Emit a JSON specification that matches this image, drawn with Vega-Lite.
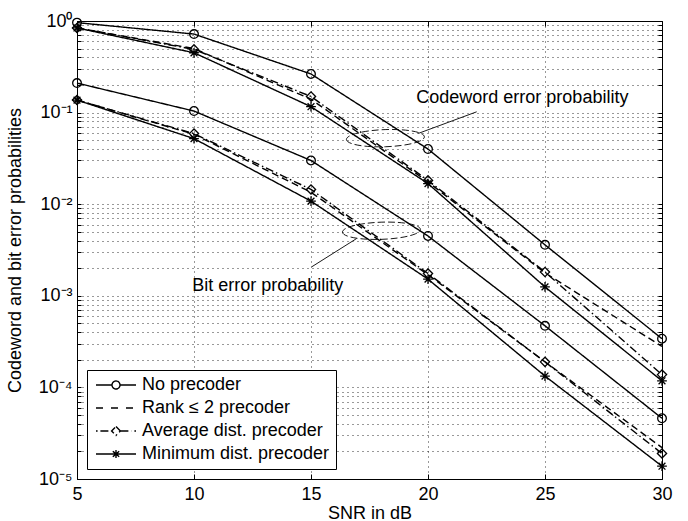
{
  "$schema": "https://vega.github.io/schema/vega-lite/v6.json",
  "width": 585,
  "height": 458,
  "autosize": {"type": "none"},
  "padding": {"left": 77, "top": 21, "right": 26, "bottom": 42},
  "background": "white",
  "config": {
    "font": "Liberation Sans",
    "view": {"stroke": "black", "strokeWidth": 1, "fill": "white"}
  },
  "datasets": {
    "curves": [
      {"series": "No precoder", "kind": "cw", "snr": 5, "p": 0.96},
      {"series": "No precoder", "kind": "cw", "snr": 10, "p": 0.72},
      {"series": "No precoder", "kind": "cw", "snr": 15, "p": 0.264},
      {"series": "No precoder", "kind": "cw", "snr": 20, "p": 0.040},
      {"series": "No precoder", "kind": "cw", "snr": 25, "p": 0.0036},
      {"series": "No precoder", "kind": "cw", "snr": 30, "p": 0.00034},
      {"series": "No precoder", "kind": "bit", "snr": 5, "p": 0.21},
      {"series": "No precoder", "kind": "bit", "snr": 10, "p": 0.104},
      {"series": "No precoder", "kind": "bit", "snr": 15, "p": 0.030},
      {"series": "No precoder", "kind": "bit", "snr": 20, "p": 0.0045},
      {"series": "No precoder", "kind": "bit", "snr": 25, "p": 0.00047},
      {"series": "No precoder", "kind": "bit", "snr": 30, "p": 0.000046},
      {"series": "Rank ≤ 2 precoder", "kind": "cw", "snr": 5, "p": 0.84},
      {"series": "Rank ≤ 2 precoder", "kind": "cw", "snr": 10, "p": 0.50},
      {"series": "Rank ≤ 2 precoder", "kind": "cw", "snr": 15, "p": 0.14},
      {"series": "Rank ≤ 2 precoder", "kind": "cw", "snr": 20, "p": 0.0175},
      {"series": "Rank ≤ 2 precoder", "kind": "cw", "snr": 25, "p": 0.00178},
      {"series": "Rank ≤ 2 precoder", "kind": "cw", "snr": 30, "p": 0.00028},
      {"series": "Rank ≤ 2 precoder", "kind": "bit", "snr": 5, "p": 0.137},
      {"series": "Rank ≤ 2 precoder", "kind": "bit", "snr": 10, "p": 0.058},
      {"series": "Rank ≤ 2 precoder", "kind": "bit", "snr": 15, "p": 0.0135},
      {"series": "Rank ≤ 2 precoder", "kind": "bit", "snr": 20, "p": 0.0017},
      {"series": "Rank ≤ 2 precoder", "kind": "bit", "snr": 25, "p": 0.00019},
      {"series": "Rank ≤ 2 precoder", "kind": "bit", "snr": 30, "p": 0.000022},
      {"series": "Average dist. precoder", "kind": "cw", "snr": 5, "p": 0.84},
      {"series": "Average dist. precoder", "kind": "cw", "snr": 10, "p": 0.49},
      {"series": "Average dist. precoder", "kind": "cw", "snr": 15, "p": 0.150},
      {"series": "Average dist. precoder", "kind": "cw", "snr": 20, "p": 0.0182},
      {"series": "Average dist. precoder", "kind": "cw", "snr": 25, "p": 0.00182},
      {"series": "Average dist. precoder", "kind": "cw", "snr": 30, "p": 0.000138},
      {"series": "Average dist. precoder", "kind": "bit", "snr": 5, "p": 0.137},
      {"series": "Average dist. precoder", "kind": "bit", "snr": 10, "p": 0.059},
      {"series": "Average dist. precoder", "kind": "bit", "snr": 15, "p": 0.0145},
      {"series": "Average dist. precoder", "kind": "bit", "snr": 20, "p": 0.00175},
      {"series": "Average dist. precoder", "kind": "bit", "snr": 25, "p": 0.00019},
      {"series": "Average dist. precoder", "kind": "bit", "snr": 30, "p": 0.000019},
      {"series": "Minimum dist. precoder", "kind": "cw", "snr": 5, "p": 0.84},
      {"series": "Minimum dist. precoder", "kind": "cw", "snr": 10, "p": 0.45},
      {"series": "Minimum dist. precoder", "kind": "cw", "snr": 15, "p": 0.116},
      {"series": "Minimum dist. precoder", "kind": "cw", "snr": 20, "p": 0.0168},
      {"series": "Minimum dist. precoder", "kind": "cw", "snr": 25, "p": 0.00125},
      {"series": "Minimum dist. precoder", "kind": "cw", "snr": 30, "p": 0.000118},
      {"series": "Minimum dist. precoder", "kind": "bit", "snr": 5, "p": 0.137},
      {"series": "Minimum dist. precoder", "kind": "bit", "snr": 10, "p": 0.052},
      {"series": "Minimum dist. precoder", "kind": "bit", "snr": 15, "p": 0.0108},
      {"series": "Minimum dist. precoder", "kind": "bit", "snr": 20, "p": 0.00152},
      {"series": "Minimum dist. precoder", "kind": "bit", "snr": 25, "p": 0.000133},
      {"series": "Minimum dist. precoder", "kind": "bit", "snr": 30, "p": 0.0000138}
    ],
    "notes": [
      {"x": 19.5, "y": 0.127, "text": "Codeword error probability"},
      {"x": 9.92, "y": 0.00113, "text": "Bit error probability"}
    ],
    "leaders": [
      {"x": 22.08, "y": 0.102, "x2": 19.59, "y2": 0.0593},
      {"x": 15.03, "y": 0.00207, "x2": 16.95, "y2": 0.00422}
    ],
    "ellipses": [
      {"x": 18.18, "y": 0.0526},
      {"x": 18.01, "y": 0.00513}
    ]
  },
  "layer": [
    {
      "data": {"name": "curves"},
      "mark": {"type": "line", "color": "black", "strokeWidth": 1.4},
      "encoding": {
        "x": {
          "field": "snr", "type": "quantitative",
          "scale": {"domain": [5, 30], "nice": false, "zero": false},
          "axis": {
            "orient": "bottom", "values": [5, 10, 15, 20, 25, 30], "grid": true,
            "gridDash": [1, 4], "gridColor": "#000", "gridOpacity": 0.8, "gridWidth": 1,
            "domain": false, "tickSize": -5, "tickColor": "black", "tickWidth": 1,
            "labelFontSize": 18, "labelColor": "black", "labelPadding": 11, "labelFlush": false,
            "labelOverlap": false,
            "title": "SNR in dB", "titleFontSize": 18, "titleFontWeight": "normal",
            "titleColor": "black", "titlePadding": 1
          }
        },
        "y": {
          "field": "p", "type": "quantitative",
          "scale": {"type": "log", "domain": [0.00001, 1], "nice": false},
          "axis": {
            "orient": "left",
            "values": [0.00001, 0.00002, 0.00003, 0.00004, 0.00005, 0.00006, 0.00007, 0.00008, 0.00009,
                       0.0001, 0.0002, 0.0003, 0.0004, 0.0005, 0.0006, 0.0007, 0.0008, 0.0009,
                       0.001, 0.002, 0.003, 0.004, 0.005, 0.006, 0.007, 0.008, 0.009,
                       0.01, 0.02, 0.03, 0.04, 0.05, 0.06, 0.07, 0.08, 0.09,
                       0.1, 0.2, 0.3, 0.4, 0.5, 0.6, 0.7, 0.8, 0.9, 1],
            "labelExpr": "abs(log(datum.value)/LN10 - round(log(datum.value)/LN10)) > 0.01 ? '' : ['10⁰','10⁻¹','10⁻²','10⁻³','10⁻⁴','10⁻⁵'][-round(log(datum.value)/LN10)]",
            "grid": true, "gridDash": [1, 4], "gridColor": "#000", "gridOpacity": 0.8, "gridWidth": 1,
            "domain": false, "tickSize": -4, "tickColor": "black", "tickWidth": 1,
            "labelFontSize": 18, "labelColor": "black", "labelPadding": 9, "labelOverlap": false,
            "labelFlush": false,
            "title": "Codeword and bit error probabilities", "titleFontSize": 18,
            "titleFontWeight": "normal", "titleColor": "black", "titlePadding": 14
          }
        },
        "detail": {"field": "kind", "type": "nominal"},
        "strokeDash": {
          "field": "series", "type": "nominal",
          "scale": {
            "domain": ["No precoder", "Rank ≤ 2 precoder", "Average dist. precoder", "Minimum dist. precoder"],
            "range": [[1, 0], [7, 4], [8, 3, 1.5, 3], [1, 0]]
          },
          "legend": {
            "title": null, "orient": "bottom-left", "offset": 10, "padding": 6,
            "strokeColor": "black", "fillColor": "white", "cornerRadius": 0,
            "labelFontSize": 18, "labelColor": "black", "labelOffset": 31, "labelLimit": 400,
            "symbolSize": 256, "rowPadding": 5, "symbolStrokeColor": "black", "symbolStrokeWidth": 1.3,
            "encode": {
              "symbols": {
                "update": {
                  "shape": {"signal": "datum.value === 'No precoder' ? 'M-0.75,0H1.25M2.25,0H4.25M1.25,0A0.5,0.5 0 1,1 2.25,0A0.5,0.5 0 1,1 1.25,0' : datum.value === 'Rank ≤ 2 precoder' ? 'M-0.75,0H0.5M1.125,0H2.375M3,0H4.25' : datum.value === 'Average dist. precoder' ? 'M-0.75,0H-0.55M-0.2,0H1.2M2.3,0H3.7M4.05,0H4.25M1.75,-0.55L2.3,0L1.75,0.55L1.2,0Z' : 'M-0.75,0H4.25M1.75,-0.5V0.5M1.35,-0.35L2.15,0.35M1.35,0.35L2.15,-0.35'"},
                  "strokeDash": {"value": [1, 0]},
                  "stroke": {"value": "black"},
                  "fill": {"value": "white"},
                  "strokeWidth": {"value": 1.4}
                }
              }
            }
          }
        }
      }
    },
    {
      "data": {"name": "curves"},
      "transform": [{"filter": "datum.series !== 'Rank ≤ 2 precoder'"}],
      "mark": {"type": "point", "filled": false, "color": "black", "strokeWidth": 1.3, "opacity": 1},
      "encoding": {
        "x": {"field": "snr", "type": "quantitative", "axis": null},
        "y": {"field": "p", "type": "quantitative", "axis": null},
        "shape": {
          "field": "series", "type": "nominal",
          "scale": {
            "domain": ["No precoder", "Average dist. precoder", "Minimum dist. precoder"],
            "range": ["circle", "diamond", "M0,-1V1M-1,0H1M-0.7,-0.7L0.7,0.7M-0.7,0.7L0.7,-0.7"]
          },
          "legend": null
        },
        "size": {
          "field": "series", "type": "ordinal",
          "scale": {
            "domain": ["No precoder", "Average dist. precoder", "Minimum dist. precoder"],
            "range": [75, 95, 50]
          },
          "legend": null
        }
      }
    },
    {
      "data": {"name": "leaders"},
      "mark": {"type": "rule", "color": "black", "strokeWidth": 0.9},
      "encoding": {
        "x": {"field": "x", "type": "quantitative", "axis": null},
        "y": {"field": "y", "type": "quantitative", "axis": null},
        "x2": {"field": "x2"},
        "y2": {"field": "y2"}
      }
    },
    {
      "data": {"name": "ellipses"},
      "mark": {
        "type": "point", "filled": false, "color": "black", "strokeWidth": 0.9,
        "strokeDash": [7, 3], "opacity": 1, "size": 6084, "angle": -2,
        "shape": "M-1,0A1,0.22 0 1,0 1,0A1,0.22 0 1,0 -1,0"
      },
      "encoding": {
        "x": {
          "field": "x", "type": "quantitative",
          "axis": {
            "orient": "top", "values": [5, 10, 15, 20, 25, 30], "grid": false, "labels": false,
            "domain": false, "tickSize": -5, "tickColor": "black", "title": null
          }
        },
        "y": {
          "field": "y", "type": "quantitative",
          "axis": {
            "orient": "right",
            "values": [0.00001, 0.00002, 0.00003, 0.00004, 0.00005, 0.00006, 0.00007, 0.00008, 0.00009,
                       0.0001, 0.0002, 0.0003, 0.0004, 0.0005, 0.0006, 0.0007, 0.0008, 0.0009,
                       0.001, 0.002, 0.003, 0.004, 0.005, 0.006, 0.007, 0.008, 0.009,
                       0.01, 0.02, 0.03, 0.04, 0.05, 0.06, 0.07, 0.08, 0.09,
                       0.1, 0.2, 0.3, 0.4, 0.5, 0.6, 0.7, 0.8, 0.9, 1],
            "grid": false, "labels": false, "domain": false, "tickSize": -4,
            "tickColor": "black", "title": null
          }
        }
      }
    },
    {
      "data": {"name": "notes"},
      "mark": {"type": "text", "align": "left", "baseline": "alphabetic", "fontSize": 18, "color": "black"},
      "encoding": {
        "x": {"field": "x", "type": "quantitative", "axis": null},
        "y": {"field": "y", "type": "quantitative", "axis": null},
        "text": {"field": "text"}
      }
    }
  ],
  "resolve": {"axis": {"x": "independent", "y": "independent"}}
}
